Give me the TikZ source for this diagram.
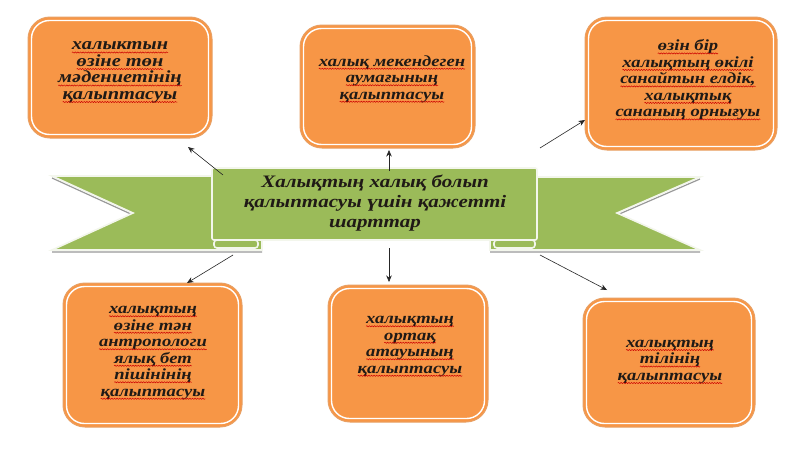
\documentclass[tikz,border=0pt]{standalone}
\usepackage{fontspec}
\setmainfont{Liberation Serif}
\newfontfamily\bxfont[FakeStretch=1.2]{Liberation Serif}
\usetikzlibrary{arrows.meta,calc,decorations.pathmorphing}
\definecolor{orfill}{HTML}{F79646}
\definecolor{oredge}{HTML}{E8A064}
\definecolor{grfill}{HTML}{9BBB59}
\definecolor{gredge}{HTML}{F3F6EC}
\definecolor{txtc}{HTML}{201A16}
\newcommand\rsq[1]{\tikz[baseline=(w.base),x=1pt,y=1pt]{\node[inner sep=0pt,outer sep=0pt,text=txtc,draw=none,fill=none](w){#1};\draw[red!80!black,line width=0.5pt,decorate,decoration={snake,amplitude=0.6pt,segment length=2.6pt}] ([yshift=-2.6pt]w.base west) -- ([yshift=-2.6pt]w.base east);}}
\tikzset{
  obox/.style={rounded corners=22pt, fill=orfill, draw=oredge, line width=1pt, inner sep=0pt},
  inline/.style={draw=white, line width=1.4pt, rounded corners=18pt},
  btxt/.style={align=center, text=txtc, font=\bxfont\bfseries\itshape\fontsize{15.5}{16.5}\selectfont, inner sep=0pt},
  btxtbig/.style={btxt, font=\bxfont\bfseries\itshape\fontsize{17}{16.5}\selectfont},
  rtxt/.style={align=center, text=txtc, font=\bxfont\bfseries\itshape\fontsize{17.5}{20}\selectfont, inner sep=0pt},
  ribbon/.style={fill=grfill, draw=gredge, line width=1.6pt, line join=miter},
  shade/.style={draw=black!40, line width=1.2pt},
  arr/.style={-{Stealth[length=6.5pt,width=5.5pt]}, line width=0.6pt, draw=black!85}
}
\newcommand\orangebox[5]{%
  \node[obox, minimum width=#4pt, minimum height=#5pt] (#1) at (#2,#3) {};
  \draw[inline] ([shift={(4pt,4pt)}]#1.south west) rectangle ([shift={(-4pt,-4pt)}]#1.north east);
}
\begin{document}
\begin{tikzpicture}[x=1pt,y=-1pt]
\useasboundingbox (0,0) rectangle (800,450);
\fill[white] (0,0) rectangle (800,450);

% ---- boxes
\orangebox{b1}{120}{77.5}{184}{121}
\orangebox{b2}{387.5}{86.5}{175}{123}
\orangebox{b3}{681}{83.5}{192}{133}
\orangebox{b4}{152.5}{355}{179}{144}
\orangebox{b5}{408}{353.5}{160}{137}
\orangebox{b6}{669}{362.5}{172}{129}

\node[btxtbig] (t1) at (120,72.5) {\rsq{халыктын}\\\rsq{өзіне төн}\\\rsq{мәдениетінің}\\\rsq{қалыптасуы}};
\node[btxt] (t2) at (392,79) {\rsq{халық мекендеген}\\\rsq{аумағының}\\\rsq{қалыптасуы}};
\node[btxt] (t3) at (688,80) {\rsq{өзін бір}\\\rsq{халықтың өкілі}\\\rsq{санайтын елдік,}\\\rsq{халықтық}\\\rsq{сананың орнығуы}};
\node[btxt] (t4) at (153,353) {\rsq{халықтың}\\\rsq{өзіне тән}\\\rsq{антропологи}\\\rsq{ялық бет}\\\rsq{пішінінің}\\\rsq{қалыптасуы}};
\node[btxt] (t5) at (410,346.5) {\rsq{халықтың}\\\rsq{ортақ}\\\rsq{атауының}\\\rsq{қалыптасуы}};
\node[btxt] (t6) at (670,362) {\rsq{халықтың}\\\rsq{тілінің}\\\rsq{қалыптасуы}};

% ---- ribbon
\draw[shade] (52,178) -- (133,215) (52,252) -- (262,252);
\draw[shade] (700,179) -- (617,215) (490,252) -- (700,252);
\draw[ribbon] (52,176) -- (262,176) -- (262,250) -- (52,250) -- (133,213) -- cycle;
\draw[ribbon] (700,177) -- (490,177) -- (490,250) -- (700,250) -- (617,213) -- cycle;
\draw[ribbon, rounded corners=3pt] (214,240) rectangle (258,248);
\draw[ribbon, rounded corners=3pt] (494,240) rectangle (535,248);
\node[fill=grfill, draw=gredge, line width=1.6pt, rounded corners=2pt, minimum width=325pt, minimum height=72pt, inner sep=0pt] (panel) at (374.5,204) {};
\node[rtxt] (title) at (375,203.5) {Халықтың халық болып\\қалыптасуы үшін қажетті\\шарттар};

% ---- arrows
\coordinate (s1) at (223,175); \coordinate (e1) at (188,147);
\coordinate (s2) at (389,171); \coordinate (e2) at (389,150);
\coordinate (s3) at (540,148); \coordinate (e3) at (585,120);
\coordinate (s4) at (233,255); \coordinate (e4) at (187,283);
\coordinate (s5) at (389,248); \coordinate (e5) at (389,282);
\coordinate (s6) at (540,255); \coordinate (e6) at (607,290);
\draw[arr] (s1) -- (e1);
\draw[arr] (s2) -- (e2);
\draw[arr] (s3) -- (e3);
\draw[arr] (s4) -- (e4);
\draw[arr] (s5) -- (e5);
\draw[arr] (s6) -- (e6);
\end{tikzpicture}
\end{document}
